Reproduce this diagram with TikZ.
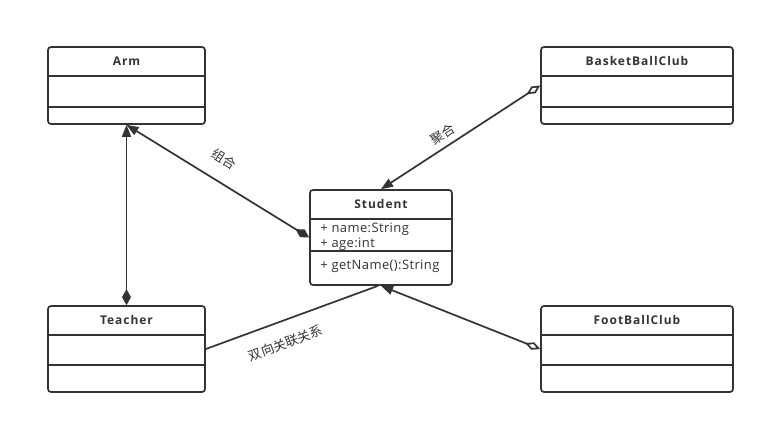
\documentclass[tikz,border=0pt]{standalone}
\usepackage{fontspec}
\setmainfont{Open Sans}
\newfontfamily\cjk{Noto Sans CJK SC}
\usetikzlibrary{arrows.meta,positioning}
\definecolor{Ink}{HTML}{333333}

\begin{document}
\begin{tikzpicture}[x=1pt,y=-1pt,
    classbox/.style={draw=Ink,line width=1.7pt,rounded corners=3pt,inner sep=0pt},
    classname/.style={text=Ink,inner sep=0pt,font=\fontsize{12}{14}\selectfont\bfseries\addfontfeature{LetterSpace=8}},
    member/.style={text=Ink,inner sep=0pt,align=left,anchor=north west,
      font=\fontsize{13}{14.5}\selectfont\addfontfeature{LetterSpace=3}},
    divider/.style={draw=Ink,line width=1.7pt},
    conn/.style={draw=Ink,line width=1.7pt},
    relname/.style={text=Ink,sloped,font=\cjk\fontsize{13}{14}\selectfont}]
  \useasboundingbox (0,0) rectangle (765,425);
  % class boxes
  \node[classbox,minimum width=157pt,minimum height=77pt] (arm) at (126.5,85.5) {};
  \node[classbox,minimum width=192pt,minimum height=77pt] (basket) at (637,85.5) {};
  \node[classbox,minimum width=142pt,minimum height=95pt] (student) at (381,237.5) {};
  \node[classbox,minimum width=157pt,minimum height=86pt] (teacher) at (126.5,349) {};
  \node[classbox,minimum width=192pt,minimum height=86pt] (football) at (637,349) {};
  % names
  \node[classname] (armname) at ([yshift=-15pt]arm.north) {Arm};
  \node[classname] (basketname) at ([yshift=-15pt]basket.north) {BasketBallClub};
  \node[classname] (studentname) at ([yshift=-15pt]student.north) {Student};
  \node[classname] (teachername) at ([yshift=-15pt]teacher.north) {Teacher};
  \node[classname] (footballname) at ([yshift=-15pt]football.north) {FootBallClub};
  % compartments
  \foreach \c/\a/\b in {arm/30/61,basket/30/61,student/30/62,teacher/30/60,football/30/60}{
    \draw[divider] ([yshift=-\a pt]\c.north west) -- ([yshift=-\a pt]\c.north east);
    \draw[divider] ([yshift=-\b pt]\c.north west) -- ([yshift=-\b pt]\c.north east);
  }
  \node[member] (studentattr) at ([xshift=11pt,yshift=-34pt]student.north west)
    {+ name:String\\+ age:int};
  \node[member] (studentop) at ([xshift=11pt,yshift=-71pt]student.north west)
    {+ getName():String};
  % relations
  \draw[conn,{Diamond[length=16pt,width=9pt]}-{Triangle[length=12pt,width=9pt]}]
    (student.west) -- node[relname,above=12pt,pos=0.53] (compname) {组合} (arm.south);
  \draw[conn,{Diamond[length=16pt,width=9pt]}-{Triangle[length=12pt,width=9pt]}]
    (teacher.north) -- (arm.south);
  \draw[conn,{Diamond[open,length=16pt,width=8pt]}-{Triangle[length=12pt,width=9pt]}]
    (basket.west) -- node[relname,above=2pt,pos=0.57] (aggname) {聚合} (student.north);
  \draw[conn,{Diamond[open,length=16pt,width=8pt]}-{Triangle[length=12pt,width=9pt]}]
    (football.west) -- (student.south);
  \draw[conn] (teacher.east) -- node[relname,below=12pt,pos=0.42] (assocname) {双向关联关系}
    ([xshift=-3pt]student.south);
\end{tikzpicture}
\end{document}
